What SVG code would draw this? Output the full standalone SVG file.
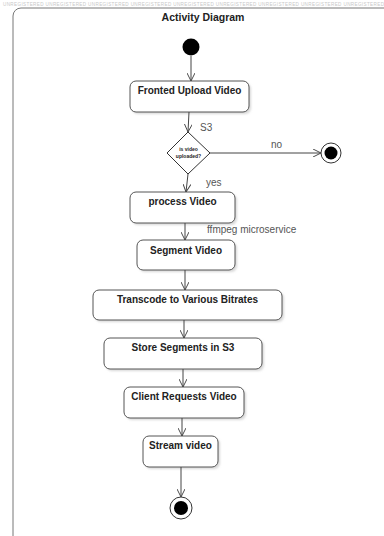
<svg xmlns="http://www.w3.org/2000/svg" width="384" height="536" viewBox="0 0 384 536">
<style>
.box{fill:#fff;stroke:#555;stroke-width:1}
.shadow{fill:#d8d8d8}
.lbl{font-family:"Liberation Sans",Arial,sans-serif;font-size:10px;font-weight:bold;fill:#222;text-anchor:middle}
.note{font-family:"Liberation Sans",Arial,sans-serif;font-size:10px;fill:#555}
.con{stroke:#444;stroke-width:1;fill:none}
</style>
<defs>
<marker id="arr" viewBox="0 0 10 10" refX="10" refY="5" markerWidth="8" markerHeight="8" orient="auto" markerUnits="userSpaceOnUse">
<path d="M0,0 L10,5 L0,10" fill="none" stroke="#444" stroke-width="1.2"/>
</marker>
<filter id="blur" x="-10%" y="-10%" width="130%" height="130%"><feGaussianBlur stdDeviation="1.2"/></filter>
</defs>
<rect width="384" height="536" fill="#fff"/>
<text x="3" y="6" font-family="Liberation Sans,Arial,sans-serif" font-size="4.6" fill="#c8c8c8" textLength="381" lengthAdjust="spacing">UNREGISTERED  UNREGISTERED  UNREGISTERED  UNREGISTERED  UNREGISTERED  UNREGISTERED  UNREGISTERED  UNREGISTERED  UNREGISTERED</text>
<rect x="13" y="8" width="430" height="580" rx="8" fill="none" stroke="#777" stroke-width="1"/>
<text x="203" y="21" class="lbl" style="font-size:10.5px">Activity Diagram</text>

<g id="start"><circle cx="191" cy="47" r="8.5" fill="#000"/></g>

<g id="n1"><rect x="132" y="83" width="119" height="31" rx="6" class="shadow" filter="url(#blur)"/><rect x="130" y="81" width="119" height="31" rx="6" class="box"/><text x="189.5" y="94" class="lbl">Fronted Upload Video</text></g>

<g id="decision"><path d="M188,132 L210,153 L188,174 L167,153 Z" fill="#fff" stroke="#333" stroke-width="1"/>
<text x="188.5" y="151" text-anchor="middle" font-family="Liberation Sans,Arial,sans-serif" font-size="5" font-weight="bold" fill="#222">is video</text>
<text x="188.5" y="157.5" text-anchor="middle" font-family="Liberation Sans,Arial,sans-serif" font-size="5" font-weight="bold" fill="#222">uploaded?</text></g>

<g id="final1"><circle cx="331" cy="153" r="10" fill="#fff" stroke="#333" stroke-width="1"/><circle cx="331" cy="153" r="6.5" fill="#000"/></g>

<g id="n2"><rect x="132" y="194" width="105" height="31" rx="6" class="shadow" filter="url(#blur)"/><rect x="130" y="192" width="105" height="31" rx="6" class="box"/><text x="182.5" y="205" class="lbl">process Video</text></g>

<g id="n3"><rect x="139" y="242" width="98" height="30" rx="6" class="shadow" filter="url(#blur)"/><rect x="137" y="240" width="98" height="30" rx="6" class="box"/><text x="186" y="254" class="lbl">Segment Video</text></g>

<g id="n4"><rect x="95" y="292" width="189" height="30" rx="6" class="shadow" filter="url(#blur)"/><rect x="93" y="290" width="189" height="30" rx="6" class="box"/><text x="187.5" y="303" class="lbl">Transcode to Various Bitrates</text></g>

<g id="n5"><rect x="106" y="340" width="158" height="31" rx="6" class="shadow" filter="url(#blur)"/><rect x="104" y="338" width="158" height="31" rx="6" class="box"/><text x="183" y="351" class="lbl">Store Segments in S3</text></g>

<g id="n6"><rect x="126" y="389" width="120" height="31" rx="6" class="shadow" filter="url(#blur)"/><rect x="124" y="387" width="120" height="31" rx="6" class="box"/><text x="184" y="400" class="lbl">Client Requests Video</text></g>

<g id="n7"><rect x="145" y="438" width="75" height="31" rx="6" class="shadow" filter="url(#blur)"/><rect x="143" y="436" width="75" height="31" rx="6" class="box"/><text x="180.5" y="449" class="lbl">Stream video</text></g>

<g id="final2"><circle cx="181" cy="508" r="11" fill="#fff" stroke="#333" stroke-width="1"/><circle cx="181" cy="508" r="7" fill="#000"/></g>

<g id="connectors">
<line x1="191" y1="56" x2="191" y2="81" class="con" marker-end="url(#arr)"/>
<line x1="189" y1="112" x2="188" y2="132" class="con" marker-end="url(#arr)"/>
<line x1="210" y1="153" x2="321" y2="153" class="con" marker-end="url(#arr)"/>
<line x1="188" y1="174" x2="186" y2="192" class="con" marker-end="url(#arr)"/>
<line x1="185" y1="223" x2="185" y2="240" class="con" marker-end="url(#arr)"/>
<line x1="185" y1="270" x2="185" y2="290" class="con" marker-end="url(#arr)"/>
<line x1="184" y1="320" x2="184" y2="338" class="con" marker-end="url(#arr)"/>
<line x1="183" y1="369" x2="183" y2="387" class="con" marker-end="url(#arr)"/>
<line x1="182" y1="418" x2="182" y2="436" class="con" marker-end="url(#arr)"/>
<line x1="181" y1="467" x2="181" y2="497" class="con" marker-end="url(#arr)"/>
<text x="200" y="131" class="note">S3</text>
<text x="271" y="148" class="note">no</text>
<text x="206" y="186" class="note">yes</text>
<text x="207" y="233" class="note">ffmpeg microservice</text>
</g>
</svg>
